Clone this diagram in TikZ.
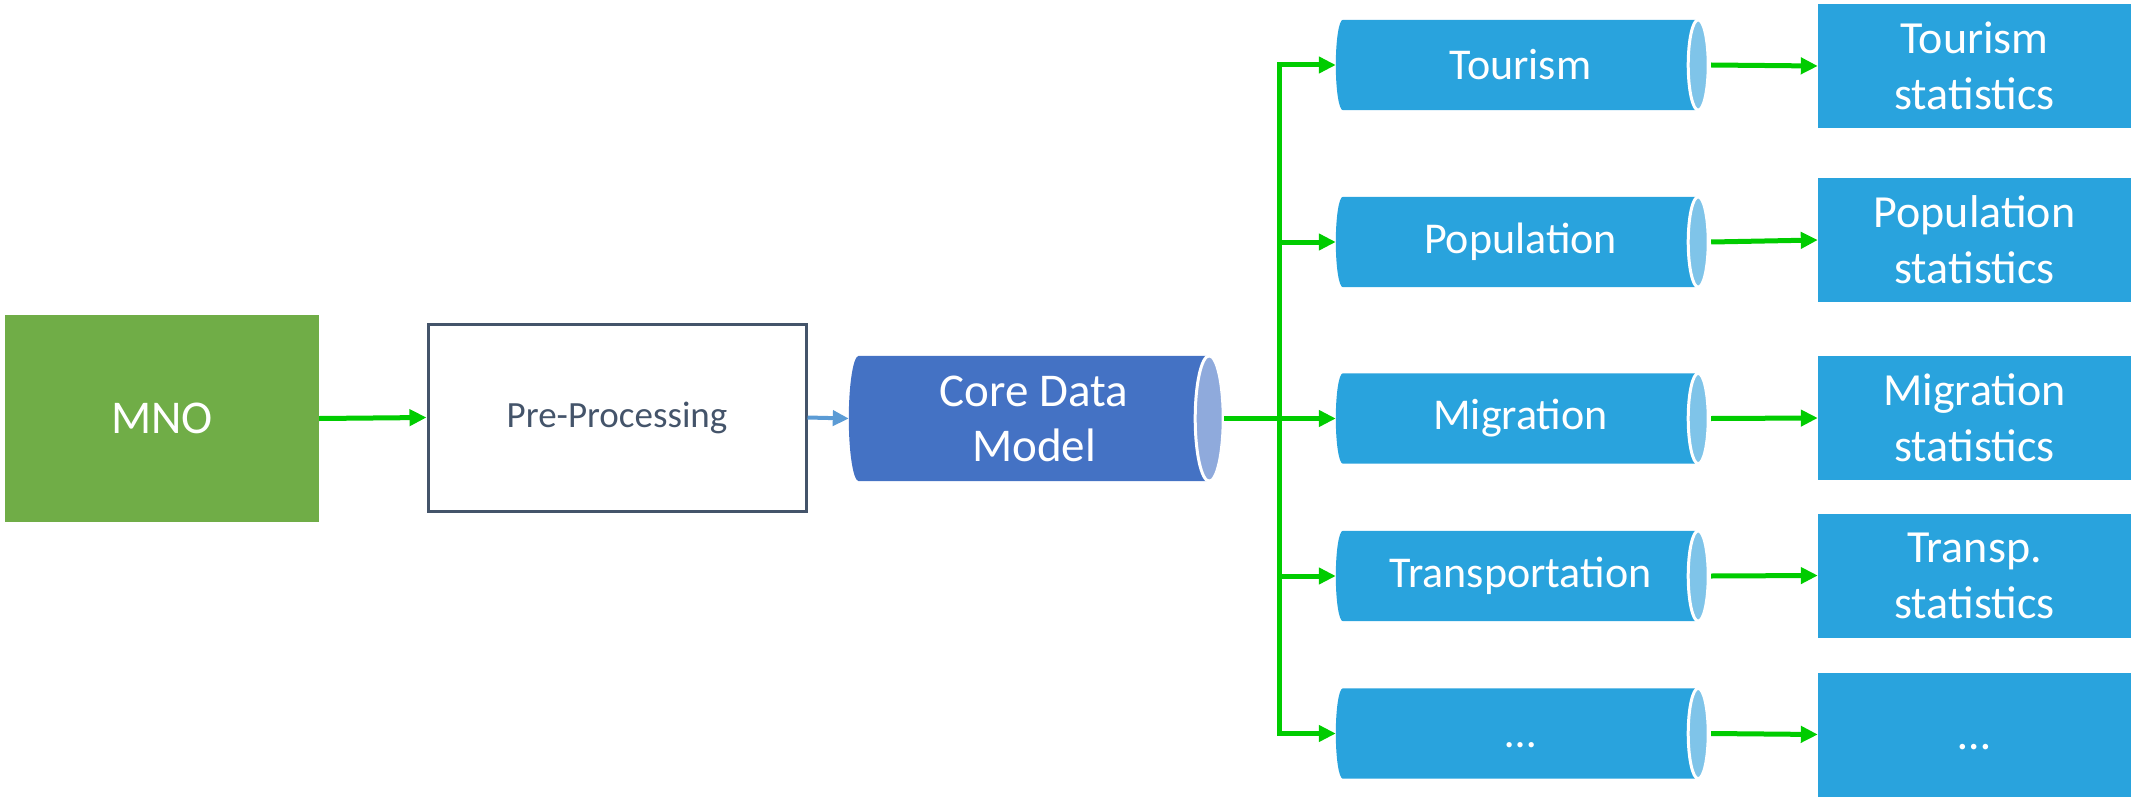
\documentclass[tikz,border=0pt]{standalone}
\usepackage{fontspec}
\setmainfont{Carlito}
\usetikzlibrary{arrows.meta,backgrounds,calc}

\definecolor{mnogreen}{HTML}{70AD47}
\definecolor{slate}{HTML}{44546A}
\definecolor{coreblue}{HTML}{4472C4}
\definecolor{corecap}{HTML}{8FAADC}
\definecolor{skyblue}{HTML}{29A3DD}
\definecolor{skycap}{HTML}{7FC4E9}
\definecolor{flowgreen}{HTML}{00CC00}
\definecolor{linkblue}{HTML}{5B9BD5}

% Horizontal cylinder behind a named node:
% #1 node, #2 body colour, #3 end colour, #4 left bulge radius, #5 end radius
\newcommand\cylbody[5]{%
  \fill[#2] let \p1=(#1.north), \p2=(#1.south), \n1={(\y1-\y2)/2} in
    (#1.north west) -- (#1.north east)
      arc[start angle=90,end angle=-90,x radius=#5,y radius=\n1]
      -- (#1.south west)
      arc[start angle=270,end angle=90,x radius=#4,y radius=\n1] -- cycle;
  \filldraw[fill=#3,draw=white,line width=3pt]
    let \p1=(#1.north), \p2=(#1.south), \n1={(\y1-\y2)/2} in
    (#1.east) ellipse[x radius=#5,y radius=\n1];
}

% ellipsis set on a capital-height line
\newcommand\moredots{\vphantom{T}…}

\begin{document}
\begin{tikzpicture}[x=1pt,y=-1pt,
  box/.style={rectangle,inner sep=0pt,align=center},
  bigtext/.style={font=\fontsize{47}{55}\selectfont},
  cyltext/.style={font=\fontsize{44}{53}\selectfont},
  stattext/.style={font=\fontsize{46}{56}\selectfont},
  cylnode/.style={box,cyltext,text=white,minimum width=355pt,minimum height=90pt},
  statnode/.style={box,stattext,text=white,fill=skyblue,minimum width=313pt,minimum height=124pt},
  gline/.style={draw=flowgreen,line width=5pt},
  garrow/.style={gline,-{Triangle[length=17pt,width=16pt]}},
  barrow/.style={draw=linkblue,line width=4pt,-{Triangle[length=16pt,width=15pt]}}]

\useasboundingbox (0,0) rectangle (2131,797);

% main chain
\node[box,bigtext,fill=mnogreen,text=white,minimum width=314pt,minimum height=207pt] (mno) at (162,418.5) {MNO};
\node[box,draw=slate,line width=3pt,text=slate,font=\fontsize{37}{44}\selectfont,
      minimum width=378pt,minimum height=187pt] (pre) at (617,417.5) {Pre-Processing};
\node[box,bigtext,text=white,minimum width=350pt,minimum height=125pt] (core) at (1034,418.5) {Core Data\\Model};

% topic stores
\node[cylnode] (tour) at (1520.5,65)    {Tourism};
\node[cylnode] (popu) at (1520.5,242)   {Population};
\node[cylnode] (migr) at (1520.5,418.5) {Migration};
\node[cylnode] (tran) at (1520.5,576)   {Transportation};
\node[cylnode] (more) at (1520.5,733.5) {\moredots};

% statistics outputs
\node[statnode] (tstat) at (1974.5,66)    {Tourism\\statistics};
\node[statnode] (pstat) at (1974.5,240)   {Population\\statistics};
\node[statnode] (mstat) at (1974.5,418)   {Migration\\statistics};
\node[statnode] (rstat) at (1974.5,575.5) {Transp.\\statistics};
\node[statnode] (xstat) at (1974.5,734.5) {\moredots};

\begin{scope}[on background layer]
  \cylbody{core}{coreblue}{corecap}{10pt}{14pt}
  \cylbody{tour}{skyblue}{skycap}{7pt}{10pt}
  \cylbody{popu}{skyblue}{skycap}{7pt}{10pt}
  \cylbody{migr}{skyblue}{skycap}{7pt}{10pt}
  \cylbody{tran}{skyblue}{skycap}{7pt}{10pt}
  \cylbody{more}{skyblue}{skycap}{7pt}{10pt}
\end{scope}

% connectors
\coordinate (j) at (1279,418.5);
\draw[garrow] (mno.east) -- (pre.west);
\draw[barrow] (pre.east) -- ([xshift=-10pt]core.west);
\draw[gline] ([xshift=15pt]core.east) -- (j);
\foreach \t in {tour,popu,migr,tran,more}
  \draw[garrow] (j) |- ([xshift=-7pt]\t.west);
\draw[garrow] ([xshift=13pt]tour.east) -- (tstat.west);
\draw[garrow] ([xshift=13pt]popu.east) -- (pstat.west);
\draw[garrow] ([xshift=13pt]migr.east) -- (mstat.west);
\draw[garrow] ([xshift=13pt]tran.east) -- (rstat.west);
\draw[garrow] ([xshift=13pt]more.east) -- (xstat.west);
\end{tikzpicture}
\end{document}
